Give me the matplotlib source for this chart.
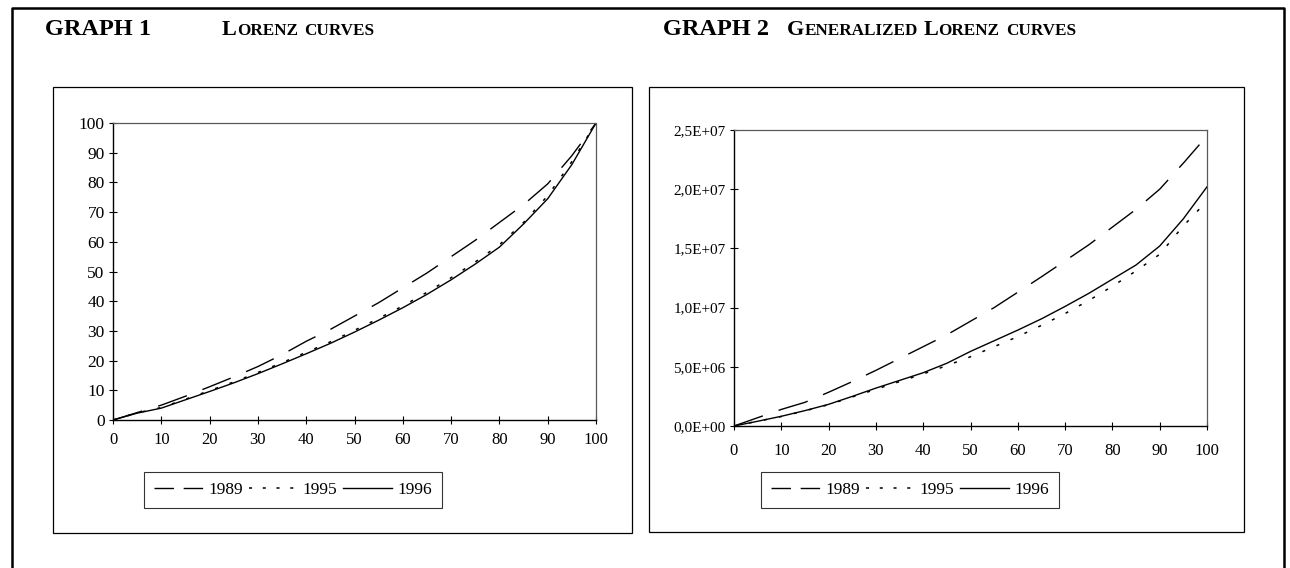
import matplotlib
matplotlib.use("Agg")
import matplotlib.pyplot as plt
from matplotlib.lines import Line2D
from matplotlib.patches import Rectangle
from matplotlib.ticker import FuncFormatter, MultipleLocator

plt.rcParams['font.family'] = ['Liberation Serif', 'DejaVu Serif']

# ---------------- data ----------------
pct = [0, 5, 10, 15, 20, 25, 30, 35, 40, 45, 50, 55, 60, 65, 70, 75, 80, 85, 90, 95, 100]

# Graph 1: Lorenz curves (cumulative share, %)
lor_1989 = [0, 2.5, 5.0, 8.0, 11.2, 14.5, 18.0, 22.0, 26.5, 30.5, 35.0, 39.5, 44.5, 49.5, 55.0, 60.5, 66.5, 72.5, 79.5, 89.0, 100]
lor_1995 = [0, 2.4, 4.2, 7.0, 9.9, 12.8, 16.0, 19.3, 22.8, 26.3, 30.2, 34.2, 38.4, 43.0, 47.9, 53.2, 59.0, 66.5, 75.5, 87.0, 100]
lor_1996 = [0, 2.3, 4.0, 6.8, 9.6, 12.5, 15.6, 18.9, 22.3, 25.8, 29.6, 33.6, 37.8, 42.3, 47.2, 52.5, 58.2, 66.0, 74.5, 86.0, 100]

# Graph 2: Generalized Lorenz curves (millions)
gl_1989 = [0, 0.7, 1.4, 2.0, 2.85, 3.75, 4.7, 5.7, 6.7, 7.7, 8.85, 10.0, 11.3, 12.6, 13.95, 15.3, 16.8, 18.3, 20.0, 22.2, 24.5]
gl_1995 = [0, 0.4, 0.8, 1.28, 1.8, 2.45, 3.1, 3.75, 4.4, 5.1, 5.85, 6.7, 7.55, 8.5, 9.5, 10.6, 11.8, 13.1, 14.5, 16.9, 19.0]
gl_1996 = [0, 0.4, 0.82, 1.3, 1.83, 2.5, 3.2, 3.85, 4.5, 5.3, 6.3, 7.2, 8.1, 9.05, 10.1, 11.2, 12.4, 13.6, 15.2, 17.5, 20.2]

years = ['1989', '1995', '1996']

# ---------------- layout ----------------
W, H = 1290, 568
fig = plt.figure(figsize=(W / 100, H / 100), dpi=100)
fig.patch.set_facecolor('white')


def fx(px):
    return px / W


def fy(py):
    return 1 - py / H


styles = [
    dict(color='black', lw=1.0, linestyle=(0, (22, 12))),
    dict(color='black', lw=1.1, linestyle=(0, (2, 8))),
    dict(color='black', lw=1.0, linestyle='-'),
]
legend_styles = [
    dict(color='black', lw=1.0, linestyle=(0, (14, 7))),
    dict(color='black', lw=1.1, linestyle=(0, (2, 7))),
    dict(color='black', lw=1.0, linestyle='-'),
]

# outer frame
fig.add_artist(Line2D([fx(12), fx(12), fx(1284), fx(1284)], [0, fy(8), fy(8), 0],
                      transform=fig.transFigure, color='black', lw=1.8))

# panel boxes
for (x0, y0, x1, y1) in [(53, 87, 632, 533), (649, 87, 1244, 532)]:
    fig.add_artist(Rectangle((fx(x0), fy(y1)), (x1 - x0) / W, (y1 - y0) / H,
                             transform=fig.transFigure, fill=False, ec='black', lw=0.9))

ax1 = fig.add_axes([fx(113), fy(420), (596 - 113) / W, (420 - 123) / H])
ax2 = fig.add_axes([fx(734), fy(426), (1207 - 734) / W, (426 - 130) / H])

for ax, series, scale in [(ax1, [lor_1989, lor_1995, lor_1996], 1.0),
                          (ax2, [gl_1989, gl_1995, gl_1996], 1e6)]:
    for s, st in zip(series, styles):
        ax.plot(pct, [v * scale for v in s], **st)
    ax.set_xlim(0, 100)
    ax.xaxis.set_major_locator(MultipleLocator(10))
    for side in ['top', 'right']:
        ax.spines[side].set_linestyle((0, (1, 1)))
        ax.spines[side].set_color('0.35')
        ax.spines[side].set_linewidth(0.9)
    for side in ['left', 'bottom']:
        ax.spines[side].set_color('black')
        ax.spines[side].set_linewidth(1.0)
    ax.tick_params(direction='inout', length=6, width=0.8)
    ax.tick_params(axis='x', labelsize=12, pad=6)
    ax.tick_params(axis='y', pad=3)
    ax.patch.set_alpha(0)

ax1.set_ylim(0, 100)
ax1.yaxis.set_major_locator(MultipleLocator(10))
ax1.tick_params(axis='y', labelsize=12.5)

ax2.set_ylim(0, 2.5e7)
ax2.yaxis.set_major_locator(MultipleLocator(5e6))
ax2.yaxis.set_major_formatter(FuncFormatter(lambda v, p: f"{v:.1E}".replace('.', ',')))
ax2.tick_params(axis='y', labelsize=11)
ax2.tick_params(axis='x', pad=9)

# legends
handles = [Line2D([], [], **st) for st in legend_styles]
for cx, cy in [(293, 490), (910, 490)]:
    leg = fig.legend(handles, years, loc='center', bbox_to_anchor=(fx(cx), fy(cy)),
                     ncol=3, frameon=True, fontsize=12.5, handlelength=2.8,
                     handletextpad=0.3, columnspacing=0.35, borderpad=0.6,
                     fancybox=False, edgecolor='black')
    leg.get_frame().set_linewidth(0.8)

# titles
renderer = fig.canvas.get_renderer()


def title(x_px, y_px, segments):
    x = x_px
    for s, size in segments:
        if s == ' ':
            x += 0.28 * size * 100 / 72
            continue
        t = fig.text(fx(x), fy(y_px), s, fontsize=size, fontweight='bold',
                     ha='left', va='baseline')
        bb = t.get_window_extent(renderer)
        x = bb.x1


title(45, 35, [('GRAPH 1', 17.5)])
title(222, 35, [('L', 16), ('ORENZ', 12.3), (' ', 16), ('CURVES', 12.3)])
title(663, 35, [('GRAPH 2', 17.5)])
title(787, 35, [('G', 16), ('ENERALIZED', 12.3), (' ', 16), ('L', 16), ('ORENZ', 12.3),
                (' ', 16), ('CURVES', 12.3)])

fig.savefig('out.png', dpi=100)
